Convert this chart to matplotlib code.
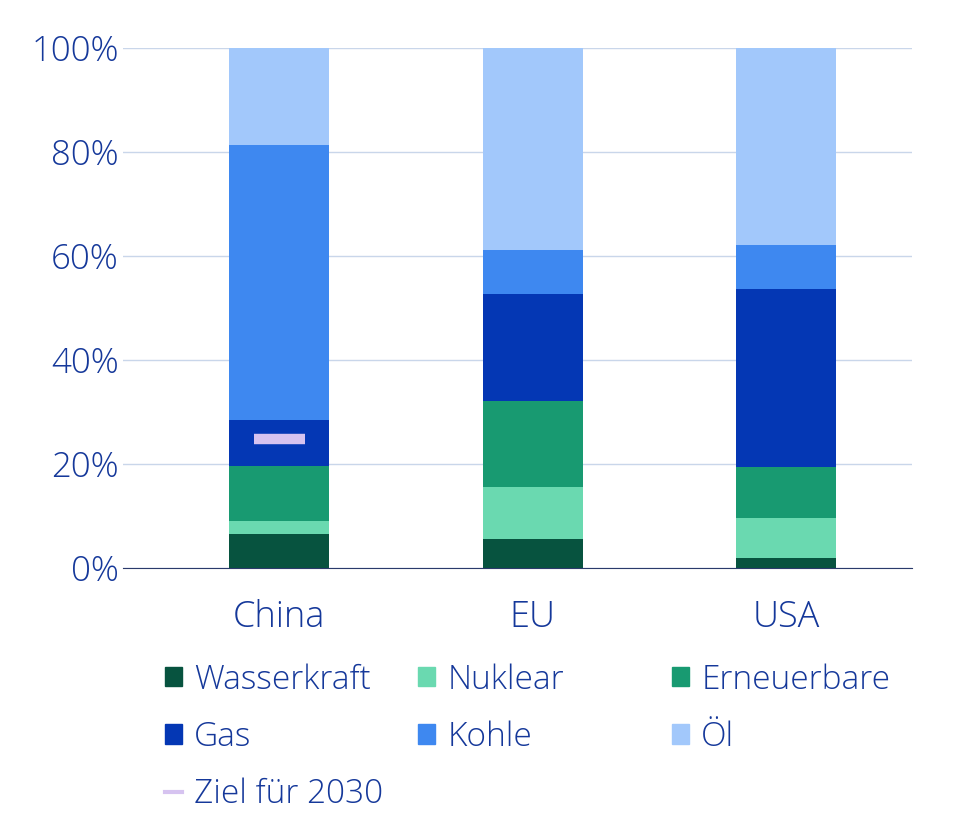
import matplotlib.pyplot as plt
import numpy as np
from matplotlib.patches import Patch
from matplotlib.lines import Line2D

plt.rcParams['font.family'] = ['Open Sans', 'DejaVu Sans']
plt.rcParams['font.weight'] = 'light'

regions = ['China', 'EU', 'USA']
sources = ['Wasserkraft', 'Nuklear', 'Erneuerbare', 'Gas', 'Kohle', 'Öl']
wasserkraft = [6.5, 5.6, 1.9]
nuklear = [2.5, 10.0, 7.7]
erneuerbare = [10.6, 16.5, 9.8]
gas = [8.9, 20.6, 34.3]
kohle = [52.8, 8.5, 8.4]
oel = [18.7, 38.8, 37.9]
ziel_2030 = 24.8  # China only

colors = ['#07533f', '#6ad9b0', '#189a71', '#0437b4', '#3e88f0', '#a2c8fb']
ziel_color = '#d6c3f0'
text_color = '#15389a'

fig = plt.figure(figsize=(9.6, 8.21), dpi=100)
ax = fig.add_axes([123/960, 1-568/821, (912-123)/960, (568-48)/821])

x = np.arange(len(regions))
bottom = np.zeros(len(regions))
for vals, col in zip([wasserkraft, nuklear, erneuerbare, gas, kohle, oel], colors):
    ax.bar(x, vals, width=0.395, bottom=bottom, color=col, zorder=3)
    bottom += np.array(vals)

ax.plot([x[0]-0.1, x[0]+0.1], [ziel_2030, ziel_2030], color=ziel_color, lw=7.5,
        solid_capstyle='butt', zorder=4)

ax.set_xlim(-0.617, 2.498)
ax.set_ylim(0, 100)
ax.set_yticks([0, 20, 40, 60, 80, 100])
ax.set_yticklabels([f'{v}%' for v in [0, 20, 40, 60, 80, 100]])
ax.set_xticks(x)
ax.set_xticklabels(regions)
ax.grid(axis='y', color='#c9d6ea', lw=1, zorder=0)
ax.tick_params(axis='y', length=0, pad=3, labelsize=25, labelcolor=text_color)
ax.tick_params(axis='x', length=0, pad=22, labelsize=26, labelcolor=text_color)
for s in ['left', 'right', 'top']:
    ax.spines[s].set_visible(False)
ax.spines['bottom'].set_color('#2b3a6b')
ax.spines['bottom'].set_zorder(5)

# legend in three columns
cols = [[0, 3, 'ziel'], [1, 4], [2, 5]]
xs = [165, 418, 672]
for cx, items in zip(xs, cols):
    handles, labels = [], []
    for it in items:
        if it == 'ziel':
            handles.append(Line2D([0], [0], color=ziel_color, lw=3))
            labels.append('Ziel für 2030')
        else:
            handles.append(Patch(color=colors[it]))
            labels.append(sources[it])
    leg = fig.legend(handles, labels, loc='upper left',
                     bbox_to_anchor=(cx/960, 1 - 663/821),
                     frameon=False, fontsize=24, labelcolor=text_color,
                     handlelength=0.52, handleheight=0.52, handletextpad=0.36,
                     labelspacing=0.71, borderaxespad=0, borderpad=0)

fig.savefig('out.png', dpi=100)
